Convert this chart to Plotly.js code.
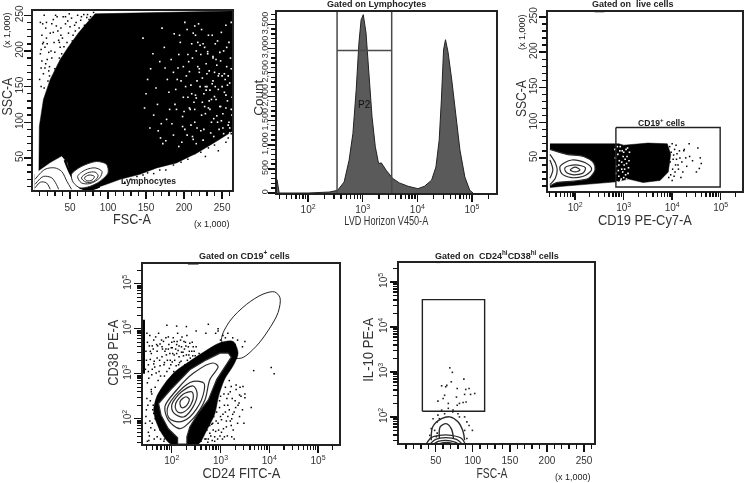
<!DOCTYPE html>
<html><head><meta charset="utf-8">
<script src="https://cdn.plot.ly/plotly-3.0.1.min.js"></script>
<style>html,body{margin:0;padding:0;background:#fff}#plot{width:744px;height:483px;filter:blur(0.3px)}</style>
</head><body><div id="plot"></div>
<script>
// ---------- minor tick positions
const linMinor=[10,20,30,40,60,70,80,90,110,120,130,140,160,170,180,190,210,220,230,240,260];
const logMinor=[30,40,50,60,70,80,90,200,300,400,500,600,700,800,900,2000,3000,4000,5000,6000,7000,8000,9000,20000,30000,40000,50000,60000,70000,80000,90000,200000];
const countMinor=[100,200,300,400,600,700,800,900,1100,1200,1300,1400,1600,1700,1800,1900,2100,2200,2300,2400,2600,2700,2800,2900,3100,3200,3300,3400,3600,3700];

// ---------- panel 1: FSC-A / SSC-A
const p1CloudX=[3,9,9.6,15,24,37,48,61,72,83,263,263,239,217,190,164,142,116,98,76,3];
const p1CloudY=[27,24,94,132,160,188,206,225,239,252,256,87,71,57,43,36,27,20,13,5,5];
const p1WhiteX=[146,152,159,165,171,177,183,189,195,201,207,213,219,225,231,237,243,249,255,260,148,155,163,169,175,181,187,193,199,205,211,217,223,229,235,241,247,253,258,262,174,180,186,192,198,204,210,216,222,228,234,240,246,252,257,261,170,196,214,238,203,209,215,221,227,233,239,245,251,256,260,188,194,200,206,212,218,224,230,236,242,248,254,259,263,184,191,197,207,214,220,226,232,238,244,250,255,261,176,160,225,231,237,243,249,255,166,172,178,201,210,216,222,228,234,240,246,252,258,263,
 202,208,214,220,226,232,238,244,250,256,262,199,205,211,217,223,229,235,241,247,253,259,193,209,215,221,227,233,239,245,251,257,262,204,218,230,242,254,186,168,156,150,190,198,212,224,236,248,260,216];
const p1WhiteY=[218,160,196,125,232,104,188,146,212,90,171,128,238,75,199,154,109,226,138,85,120,92,148,78,176,118,224,66,135,195,80,158,110,182,64,210,122,168,96,240,205,142,82,176,108,230,140,200,88,150,118,170,90,200,130,72,98,158,118,192,165,96,222,150,205,130,80,146,112,178,155,125,222,115,185,76,178,128,168,100,132,186,70,212,110,98,160,72,120,235,170,90,222,158,214,150,236,190,74,110,210,196,222,180,102,120,88,70,160,240,210,134,195,112,145,136,168,84,165,135,
 150,118,100,175,140,120,190,100,165,205,118,178,135,190,92,230,145,85,150,198,142,100,195,152,138,208,122,172,105,165,92,152,175,82,212,150,188,160,170,185,175,140,118,94,225,162,132,122,92,70];
const p1DotX=[12,15,18,11,20,24,14,28,31,17,22,26,35,13,19,38,41,30,45,48,52,33,56,60,64,37,68,72,43,27,16,21,25,34,40,44,50,54,58,62,70,75,12,14,18,23,29,32,36,11,13,16,19,22,240,250,258,232,222,214,205,196,186,176,168,160,152,146,138,130,122,262,255,245,228,
 10,12,15,17,20,23,26,28,30,33,35,38,42,46,49,53,57,61,65,69,73,77,81,44,47,39,36];
const p1DotY=[150,168,182,196,210,225,238,244,250,205,172,190,215,222,240,232,248,175,195,225,246,160,236,250,243,205,251,247,180,155,148,158,200,228,218,238,234,222,240,232,229,244,176,210,232,165,212,235,190,240,186,250,218,198,68,80,78,64,58,56,48,44,40,33,33,28,29,26,24,20,16,84,72,60,52,
 160,202,212,176,188,178,238,226,198,248,178,222,206,212,252,214,228,216,248,236,251,248,254,248,242,196,212];
const p1LeftPatchX=[3,24,39,46,52,63,70,3];
const p1LeftPatchY=[27,43,52,43,20,6,5,5];
const p1LeftC1X=[4,17,30,39,46,52];   const p1LeftC1Y=[20,34,36,31,17,6];
const p1LeftC2X=[4,15,26,32,35];      const p1LeftC2Y=[13,24,22,13,6];
const p1LeftC3X=[4,11,19,24];         const p1LeftC3Y=[8,16,15,6];
const p1SepX=[43,50,59,72,89];        const p1SepY=[47,29,13,5,10];
const p1LymC1X=[52,65,85,98,100,89,76,63,54]; const p1LymC1Y=[27,38,45,41,29,17,10,8,16];
const p1LymC2X=[60,70,83,92,89,76,65];        const p1LymC2Y=[24,33,36,31,22,14,15];
const p1LymC3X=[65,73,83,87,81,71];           const p1LymC3Y=[22,29,30,25,17,16];
const p1LymC4X=[69,75,82,79,72];              const p1LymC4Y=[22,26,24,19,18];

// ---------- panel 2: LVD Horizon histogram
const p2LogX=[1.43,1.45,1.47,2.0,2.39,2.54,2.66,2.75,2.82,2.88,2.93,2.97,3.01,3.06,3.11,3.17,3.23,3.29,3.34,3.43,3.55,3.67,3.83,4.01,4.13,4.26,4.34,4.40,4.44,4.48,4.515,4.56,4.63,4.71,4.78,4.87,4.96,5.02];
const p2Count=[280,150,0,0,20,55,230,680,1235,2140,3110,3590,3700,3320,2480,1580,960,610,625,470,300,210,140,90,140,265,540,1100,1930,2970,3180,2935,2345,1580,890,330,55,0];
const p2GateLogX=[2.53,2.53,2.53,3.53,3.53,3.53];
const p2GateY=[0,3755,2956,2956,3755,0];

// ---------- panel 3: CD19 / SSC-A
const p3BandLogX=[1.48,2.9,3.0,3.2,3.5,3.9,3.97,3.92,3.75,3.4,3.1,2.85,2.55,2.2,1.8,1.48];
const p3BandY=[70,70,68,69,71,70,55,30,18,15,20,16,14,12,10,8];
const p3WhiteLogX=[2.82,2.85,2.88,2.9,2.93,2.96,2.98,3.0,3.03,3.06,3.08,3.1,2.84,2.87,2.91,2.94,2.97,3.01,3.04,3.07,3.09,2.83,2.89,2.92,2.95,2.99,3.02,3.05,3.11,2.86,2.9,2.96,3.0,3.06,3.09,3.12];
const p3WhiteY=[62,38,55,24,66,44,30,58,48,20,64,36,28,66,46,18,60,40,26,52,16,50,32,60,20,52,34,62,46,16,40,34,22,42,28,58];
const p3TailLogX=[3.95,3.98,4.0,4.02,4.05,4.07,4.1,4.13,4.16,4.2,4.24,4.3,4.36,4.42,4.5,4.56,4.58,4.53,3.97,4.01,4.04,4.08,4.12,4.18,4.25,3.93,3.96,4.0,4.03,4.06,4.09,4.15,4.22,4.28,4.6,4.35];
const p3TailY=[66,58,70,48,62,40,56,34,50,44,60,38,52,46,30,35,50,64,26,34,24,68,40,22,62,22,44,18,54,30,48,60,30,50,42,70];
const p3C1LogX=[1.48,1.83,2.17,2.38,2.41,2.28,1.97,1.62,1.48]; const p3C1Y=[62,55,52,43,33,21,17,15,10];
const p3C2LogX=[1.69,1.93,2.21,2.34,2.21,1.93,1.72];           const p3C2Y=[38,47,43,34,25,22,28];
const p3C3LogX=[1.79,2,2.21,2.17,1.97,1.81];                   const p3C3Y=[36,40,36,29,26,30];
const p3C4LogX=[1.9,2,2.1,2];                                  const p3C4Y=[33,37,33,30];
const p3L1LogX=[1.48,1.59,1.63,1.59,1.48];                     const p3L1Y=[55,43,33,21,12];
const p3L2LogX=[1.48,1.54,1.48];                               const p3L2Y=[47,33,21];
const p3GateLogX=[2.84,4.99,4.99,2.84,2.84];
const p3GateY=[93,93,8.6,8.6,93];
const p3MarkLogX=[2.4,2.6]; const p3MarkY=[258,258];

// ---------- panel 4: CD24 / CD38
const p4DenseLogX=[1.63,1.69,1.86,2.07,2.37,2.68,2.99,3.26,3.36,3.27,3.08,2.96,2.88,2.72,2.55,2.31,1.98,1.78,1.66];
const p4DenseLogY=[2.2,2.49,2.79,3.05,3.28,3.5,3.69,3.72,3.46,3.2,2.87,2.5,2.1,1.75,1.44,1.44,1.44,1.7,2.0];
const p4DotLogX=[1.48,1.5,1.53,1.56,1.6,1.63,1.66,1.7,1.73,1.77,1.8,1.84,1.88,1.92,1.96,2.0,2.04,2.08,2.12,2.16,2.2,2.24,2.28,2.32,2.36,2.4,2.44,2.48,2.52,2.56,
 1.47,1.52,1.55,1.58,1.62,1.65,1.69,1.72,1.75,1.79,1.82,1.86,1.9,1.94,1.98,2.02,2.06,2.1,2.14,2.18,2.22,2.26,2.3,2.34,2.38,2.42,2.46,2.5,
 1.48,1.52,1.56,1.6,1.64,1.68,1.72,1.76,1.8,1.84,1.88,1.92,1.96,2.0,2.04,1.5,1.55,1.62,1.7,1.78,1.86,1.94,2.02,1.46,1.58,1.66,1.74,1.82,1.9,1.98,
 2.5,2.55,2.6,2.65,2.7,2.75,2.8,2.85,2.9,2.95,3.0,3.05,3.1,3.15,3.2,3.25,3.3,3.35,3.4,3.45,3.5,2.62,2.72,2.82,2.92,3.02,3.12,3.22,3.32,3.42,2.68,2.78,2.88,2.98,3.08,3.18,3.28,3.38,3.48,3.03,3.13,3.23,
 2.9,2.95,3.0,3.05,3.1,3.15,3.2,3.25,3.3,3.35,2.7,2.5,2.3,2.1,1.9,2.75,2.95,3.45,3.5,3.68,4.04,4.1,3.39,3.5,3.63,3.46,
 1.58,1.6,1.64,1.67,1.7,1.74,1.76,1.8,1.83,1.85,1.88,1.91,1.93,1.95,1.99,2.01,2.03,2.05,2.09,2.11,2.13,2.15,2.19,2.21,2.23,2.27,2.29,2.31,2.35,2.37,2.41,2.43,1.59,1.63,1.68,1.71,1.76,1.81,1.85,1.89,1.93,1.97,2.01,2.05,2.1,2.15,2.2,2.25,2.3,1.52,1.56,1.5,1.54,1.46,1.49,
 2.72,2.76,2.8,2.84,2.88,2.92,2.96,3.0,3.04,3.08,3.12,3.16,3.2,3.24,3.28,3.32,3.36,2.74,2.78,2.82,2.86,2.9,2.94,2.98,3.02,3.06,3.1,3.14,3.18,3.22,3.26,2.7,2.75,2.83,2.91,2.99,3.07,3.15,3.23,3.31,3.39,
 1.47,1.51,1.54,1.57,1.61,1.65,1.69,1.73,1.77,1.81,1.85,1.89,1.93,1.97,2.01,2.05,1.49,1.53,1.59,1.63];
const p4DotLogY=[3.3,3.7,2.9,3.5,3.1,3.75,2.7,3.35,3.9,2.95,3.6,3.2,3.8,2.8,3.45,3.7,3.05,3.55,3.9,3.25,3.6,3.4,3.7,3.3,3.5,3.25,3.6,3.4,3.3,3.45,
 3.5,3.2,3.85,2.6,3.55,3.15,3.65,2.85,3.3,3.75,2.65,3.5,3.05,3.65,3.2,3.45,3.3,3.65,3.2,3.75,3.1,3.55,3.2,3.6,3.35,3.7,3.5,3.6,
 2.2,1.7,2.4,1.9,1.55,2.1,2.5,1.75,2.0,1.5,2.25,1.65,1.85,1.5,1.7,1.5,1.95,2.3,1.6,2.2,1.8,1.52,1.6,1.9,2.65,2.0,1.85,2.45,1.6,1.72,
 1.6,1.8,1.5,1.7,1.95,1.55,2.1,1.75,2.3,1.9,2.5,2.1,2.7,2.3,2.6,2.1,2.4,1.9,2.7,2.2,2.55,2.0,2.2,2.4,2.6,1.7,1.95,1.85,2.75,2.5,1.55,1.85,1.6,2.25,1.6,2.85,1.55,2.35,1.9,2.85,2.45,2.0,
 3.9,4.0,3.75,3.85,3.8,3.9,3.7,3.8,3.65,3.75,3.9,3.95,4.05,4.06,4.08,4.1,3.95,3.6,3.72,3.07,3.14,3.0,2.53,2.47,2.25,2.72,
 3.45,3.62,3.28,3.82,3.5,3.05,3.66,3.38,3.72,2.95,3.55,3.3,3.82,3.12,3.58,3.26,3.8,3.42,3.18,3.72,3.52,3.62,3.28,3.82,3.48,3.2,3.62,3.85,3.42,3.68,3.5,3.4,2.98,3.22,3.02,3.62,3.18,3.55,3.25,3.42,3.55,3.3,3.58,3.72,3.45,3.38,3.48,3.72,3.42,3.05,3.32,2.8,3.62,3.1,3.9,
 1.75,2.0,1.62,1.9,1.5,2.15,1.75,2.05,1.55,2.3,1.82,2.55,1.95,2.45,2.15,2.65,2.3,1.48,1.68,1.88,2.05,1.72,1.55,2.4,1.98,1.78,2.15,1.62,2.2,2.72,1.75,1.55,1.85,1.52,1.95,1.62,2.55,2.05,1.6,2.25,2.05,
 2.05,2.3,1.62,1.8,2.2,1.75,2.35,1.95,1.55,1.78,1.55,1.7,1.6,1.48,1.55,1.5,2.45,1.52,2.55,2.12];
const p4PileLogX=[1.43,1.43];  const p4PileLogY=[3.0,4.2];
const p4OuterLogX=[1.73,1.97,2.37,2.71,2.99,3.16,3.22,3.09,2.92,2.75,2.54,2.37,2.31,2.31,2.12,2.12,1.93,1.78];
const p4OuterLogY=[2.34,2.64,3.09,3.31,3.46,3.46,3.37,3.16,2.87,2.42,2.12,1.82,1.6,1.44,1.44,1.58,1.78,2.08];
const p4C2LogX=[1.86,2.1,2.44,2.85,2.95,2.78,2.68,2.44,2.17,1.93]; const p4C2LogY=[2.27,2.64,3.01,3.24,3.16,2.87,2.42,2.01,1.78,1.97];
const p4C3LogX=[1.91,2.14,2.44,2.66,2.61,2.37,2.14,1.95];          const p4C3LogY=[2.23,2.6,2.83,2.79,2.42,2.04,1.93,2.01];
const p4C4LogX=[2.0,2.2,2.44,2.52,2.44,2.24,2.05];                 const p4C4LogY=[2.31,2.6,2.73,2.57,2.27,2.04,2.12];
const p4C5LogX=[2.08,2.24,2.41,2.44,2.34,2.18,2.09];               const p4C5LogY=[2.34,2.55,2.6,2.46,2.23,2.13,2.19];
const p4C6LogX=[2.17,2.29,2.36,2.29,2.2];                          const p4C6LogY=[2.38,2.49,2.43,2.28,2.25];
const p4GateLogX=[3.02,3.19,3.53,3.87,4.11,4.22,4.18,3.97,3.73,3.43,3.19];
const p4GateLogY=[3.76,4.17,4.54,4.77,4.82,4.69,4.36,3.95,3.61,3.35,3.39];
const p4MarkLogX=[2.33,2.55]; const p4MarkLogY=[5.45,5.45];

// ---------- panel 5: FSC-A / IL-10
const p5DotX=[69,72.5,88,90.5,95,102.6,97,89,79,78,58,63.5,65,71,62,60,53,67,91,87,82,79,73.4,67,58,53,46.4,62,73,80,89,92,95,99.5,89,92,42,44,48.6,52,51,82,55,52];
const p5DotLogY=[3.09,2.99,2.84,2.61,2.63,2.52,2.5,2.5,2.63,2.44,2.69,2.67,2.7,2.78,2.48,2.41,2.35,2.3,2.33,2.32,2.3,2.26,2.15,2.19,2.15,2.04,1.96,2.07,2.11,2.07,2.0,1.89,1.81,1.7,1.7,1.52,1.59,1.74,1.7,1.64,1.56,2.0,1.96,1.89];
const p5HumpX=[44,46,58,69,80,87,89];      const p5HumpLogY=[1.48,1.78,1.96,2.0,1.89,1.67,1.48];
const p5InnerX=[55,56,64,71,74];           const p5InnerLogY=[1.52,1.78,1.85,1.74,1.52];
const p5N1X=[37,44,55,71,85,90];           const p5N1LogY=[1.39,1.54,1.59,1.59,1.52,1.39];
const p5N2X=[42,50,63.5,78,86];            const p5N2LogY=[1.39,1.5,1.54,1.5,1.39];
const p5N3X=[46.4,54.5,64,76,81.5];        const p5N3LogY=[1.39,1.46,1.48,1.44,1.39];
const p5N4X=[52,60,69,76];                 const p5N4LogY=[1.39,1.43,1.43,1.39];
const p5GateX=[32,116,116,32,32];
const p5GateLogY=[2.126,2.126,4.607,4.607,2.126];
const p5MarkX=[50,56]; const p5MarkLogY=[5.44,5.44];

// ---------- labels
const panelTitles=['Gated on Lymphocytes','Gated on  live cells','Gated on CD19<sup>+</sup> cells','Gated on  CD24<sup>hi</sup>CD38<sup>hi</sup> cells'];
const gateLabels=['Lymphocytes','P2','CD19<sup>+</sup> cells'];
const axisTitles=['FSC-A','SSC-A','LVD Horizon V450-A','Count','CD19 PE-Cy7-A','SSC-A','CD24 FITC-A','CD38 PE-A','FSC-A','IL-10 PE-A'];
const scaleNote='(x 1,000)';

// ---------- helpers
const pow=a=>a.map(v=>Math.pow(10,v));
const AX=n=>({xaxis:'x'+(n>1?n:''),yaxis:'y'+(n>1?n:'')});
const INK='#2b2b2b';
function fillT(n,x,y,color,lw,lc,spline){return Object.assign({type:'scatter',mode:'lines',x,y,fill:'toself',fillcolor:color,line:{color:lc||color,width:lw||0.5,shape:spline?'spline':'linear',smoothing:0.8},hoverinfo:'skip'},AX(n));}
function lineT(n,x,y,w,c,spline){return Object.assign({type:'scatter',mode:'lines',x,y,line:{color:c||'#111',width:w||1.2,shape:spline?'spline':'linear',smoothing:0.9},hoverinfo:'skip'},AX(n));}
function dotT(n,x,y,c,s){return Object.assign({type:'scatter',mode:'markers',x,y,marker:{color:c||'#000',size:s||1.8,symbol:'square',line:{width:0}},hoverinfo:'skip'},AX(n));}
function markT(n,x,y){return Object.assign(lineT(n,x,y,2,'#222'),{cliponaxis:false});}
const close=a=>a.concat([a[0]]);

const traces=[
 // panel 1
 fillT(1,p1CloudX,p1CloudY,'#000'),
 dotT(1,p1WhiteX,p1WhiteY,'#fff',1.6),
 dotT(1,p1DotX,p1DotY,'#000',1.5),
 fillT(1,p1LeftPatchX,p1LeftPatchY,'#fff'),
 lineT(1,p1LeftC1X,p1LeftC1Y,1,INK,true),
 lineT(1,p1LeftC2X,p1LeftC2Y,1,INK,true),
 lineT(1,p1LeftC3X,p1LeftC3Y,1,INK,true),
 lineT(1,p1SepX,p1SepY,2.2,'#000',true),
 fillT(1,close(p1LymC1X),close(p1LymC1Y),'#fff',1,INK,true),
 lineT(1,close(p1LymC2X),close(p1LymC2Y),1,INK,true),
 lineT(1,close(p1LymC3X),close(p1LymC3Y),1,INK,true),
 lineT(1,close(p1LymC4X),close(p1LymC4Y),1,INK,true),
 // panel 2
 Object.assign({type:'scatter',mode:'lines',x:pow(p2LogX),y:p2Count,fill:'tozeroy',fillcolor:'#5a5a5a',line:{color:'#222',width:1},hoverinfo:'skip'},AX(2)),
 lineT(2,pow(p2GateLogX),p2GateY,1.5,'#4a4a4a'),
 // panel 3
 fillT(3,pow(p3BandLogX),p3BandY,'#000'),
 dotT(3,pow(p3WhiteLogX),p3WhiteY,'#fff',1.6),
 dotT(3,pow(p3TailLogX),p3TailY,'#000',1.5),
 fillT(3,pow(p3C1LogX),p3C1Y,'#fff',1.2,INK,true),
 lineT(3,pow(close(p3C2LogX)),close(p3C2Y),1.2,INK,true),
 lineT(3,pow(close(p3C3LogX)),close(p3C3Y),1.2,INK,true),
 lineT(3,pow(close(p3C4LogX)),close(p3C4Y),1.2,INK,true),
 lineT(3,pow(p3L1LogX),p3L1Y,1.2,INK,true),
 lineT(3,pow(p3L2LogX),p3L2Y,1.2,INK,true),
 lineT(3,pow(p3GateLogX),p3GateY,1.4,'#222'),
 markT(3,pow(p3MarkLogX),p3MarkY),
 // panel 4
 lineT(4,pow(close(p4GateLogX)),pow(close(p4GateLogY)),1,'#222',true),
 dotT(4,pow(p4DotLogX),pow(p4DotLogY),'#000',1.5),
 fillT(4,pow(close(p4DenseLogX)),pow(close(p4DenseLogY)),'#000',0.5,'#000',true),
 lineT(4,pow(p4PileLogX),pow(p4PileLogY),2,'#000'),
 fillT(4,pow(close(p4OuterLogX)),pow(close(p4OuterLogY)),'#fff',1.2,INK,false),
 lineT(4,pow(close(p4C2LogX)),pow(close(p4C2LogY)),1.2,INK,true),
 lineT(4,pow(close(p4C3LogX)),pow(close(p4C3LogY)),1.2,INK,true),
 lineT(4,pow(close(p4C4LogX)),pow(close(p4C4LogY)),1.2,INK,true),
 lineT(4,pow(close(p4C5LogX)),pow(close(p4C5LogY)),1.2,INK,true),
 lineT(4,pow(close(p4C6LogX)),pow(close(p4C6LogY)),1.2,INK,true),
 markT(4,pow(p4MarkLogX),pow(p4MarkLogY)),
 // panel 5
 dotT(5,p5DotX,pow(p5DotLogY),'#222',1.6),
 lineT(5,p5HumpX,pow(p5HumpLogY),1.4,INK,true),
 lineT(5,p5InnerX,pow(p5InnerLogY),1.4,INK,true),
 lineT(5,p5N1X,pow(p5N1LogY),1.3,INK,true),
 lineT(5,p5N2X,pow(p5N2LogY),1.3,INK,true),
 lineT(5,p5N3X,pow(p5N3LogY),1.3,INK,true),
 lineT(5,p5N4X,pow(p5N4LogY),1.3,INK,true),
 lineT(5,p5GateX,pow(p5GateLogY),1.4,'#222'),
 markT(5,p5MarkX,pow(p5MarkLogY))
];

// ---------- layout (pixel geometry of the five frames)
const W=744,H=483;
const dx=(a,b)=>[a/W,b/W];
const dy=(top,bot)=>[1-bot/H,1-top/H];
const FONT='Liberation Sans';
function axis(cfg){
 return Object.assign({
  showgrid:false,zeroline:false,showline:true,mirror:true,linecolor:'#222',linewidth:1.6,
  ticks:'outside',ticklen:7,tickwidth:1.4,tickcolor:'#111',
  tickfont:{family:FONT,size:10,color:'#333'},automargin:false
 },cfg);
}
const mkLin=(dom,anc,range)=>axis({domain:dom,anchor:anc,range,tickmode:'linear',tick0:0,dtick:50});
// plotly enlarges power-format log labels by 1.25, hence the smaller base size
const mkLog=(dom,anc,range)=>axis({type:'log',domain:dom,anchor:anc,range,dtick:1,exponentformat:'power',tickfont:{family:FONT,size:8,color:'#333'}});
const rot=(ax,shift)=>Object.assign(ax,{tickangle:-90,ticklabelstandoff:shift||0});

const layout={
 width:W,height:H,autosize:false,margin:{l:0,r:0,t:0,b:0},paper_bgcolor:'#fff',plot_bgcolor:'#fff',showlegend:false,
 xaxis:mkLin(dx(33,232),'y',[1.3,263]),
 yaxis:rot(mkLin(dy(11,190),'x',[5,256]),-3),
 xaxis2:mkLog(dx(277,496),'y2',[1.43,5.44]),
 yaxis2:rot(axis({domain:dy(12,193),anchor:'x2',range:[0,3755],tickmode:'linear',tick0:0,dtick:500,tickformat:',d',
   tickfont:{family:FONT,size:9,color:'#333'}}),-3),
 xaxis3:mkLog(dx(548,742),'y3',[1.44,5.44]),
 yaxis3:rot(mkLin(dy(12,191),'x3',[3,257]),-2),
 xaxis4:mkLog(dx(143,339),'y4',[1.41,5.43]),
 yaxis4:rot(mkLog(dy(264,444),'x4',[1.44,5.44])),
 xaxis5:mkLin(dx(399,594),'y5',[0.5,263.5]),
 yaxis5:rot(mkLog(dy(263,443),'x5',[1.42,5.42])),
 annotations:[]
};

// minor ticks: one tick-only overlay pair per panel
const minorX=[linMinor,logMinor,logMinor,logMinor,linMinor];
const minorY=[linMinor,countMinor,linMinor,logMinor,logMinor];
function overlay(mainKey,mainId,otherAnchor,vals){
 const m=layout[mainKey];
 return {domain:m.domain,range:m.range,type:m.type||'linear',overlaying:mainId,anchor:otherAnchor,
  tickmode:'array',tickvals:vals,ticks:'outside',ticklen:5,tickwidth:1.4,tickcolor:'#111',
  showticklabels:false,showline:false,showgrid:false,zeroline:false,automargin:false};
}
for(let n=1;n<=5;n++){
 const s=n>1?n:'', o=n+5;
 layout['xaxis'+o]=overlay('xaxis'+s,'x'+s,'y'+o,minorX[n-1]);
 layout['yaxis'+o]=overlay('yaxis'+s,'y'+s,'x'+o,minorY[n-1]);
 traces.push({type:'scatter',mode:'markers',x:[minorX[n-1][4]],y:[minorY[n-1][4]],marker:{opacity:0,size:1},xaxis:'x'+o,yaxis:'y'+o,hoverinfo:'skip'});
}

function note(text,px,py,size,bold,angle,color){
 layout.annotations.push({xref:'paper',yref:'paper',x:px/W,y:1-py/H,text:bold?'<b>'+text+'</b>':text,showarrow:false,xanchor:'center',yanchor:'middle',textangle:angle||0,
   font:{family:FONT,size,color:color||'#222'}});
}
note(panelTitles[0],376,4,9,true);
note(panelTitles[1],633,4,9,true);
note(panelTitles[2],244,255,9,true);
note(panelTitles[3],497,255,9,true);
note(gateLabels[0],148,181,8.6,true);
note(gateLabels[1],364,104,10,false,0,'#111');
note(gateLabels[2],661,122,8.6,true);
note(scaleNote,7,30,9,false,-90);
note(scaleNote,212,224,9,false);
note(scaleNote,522,32,9,false,-90);
note(scaleNote,573,477,9,false);
// axis titles: placed by pixel, condensed to the width they have in the reference
const titleStart=layout.annotations.length;
const titleCentreX=[132,7,386,258,645,521,241,113,492,368];
const titleCentreY=[219,97,221,98,220,99,473,353,473,350];
const titleAngle=[0,-90,0,-90,0,-90,0,-90,0,-90];
const titleSize=[14,14,12,13,14,14,14,14,14,14];
const titleWidth=[38,38,84,36,94,37,78,66,31,64];
axisTitles.forEach((t,i)=>note(t,titleCentreX[i],titleCentreY[i],titleSize[i],false,titleAngle[i],'#333'));

Plotly.newPlot('plot',traces,layout,{staticPlot:true,displayModeBar:false}).then(gd=>{
 gd.querySelectorAll('.annotation').forEach(a=>{
  const i=+a.getAttribute('data-index')-titleStart;
  if(i<0)return;
  const t=a.querySelector('text');
  t.setAttribute('textLength',titleWidth[i]);
  t.setAttribute('lengthAdjust','spacingAndGlyphs');
 });
});
</script></body></html>
